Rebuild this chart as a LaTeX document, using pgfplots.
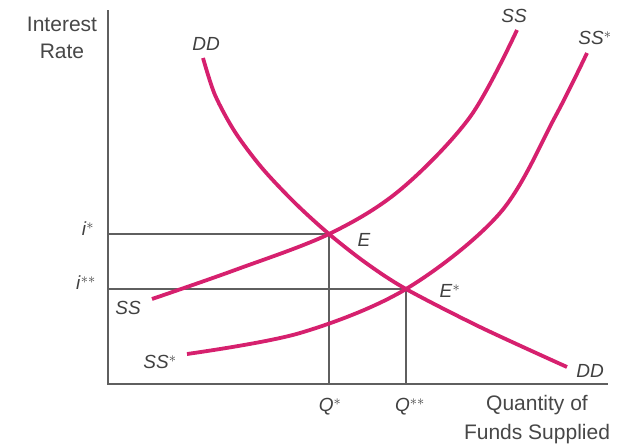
\documentclass[border=0pt]{standalone}
\usepackage{pgfplots}
\pgfplotsset{compat=1.18}
\usepackage{fontspec}
\setmainfont{Liberation Sans}
\definecolor{curve}{RGB}{214,32,110}
\definecolor{axgray}{RGB}{95,95,95}
\begin{document}
\begin{tikzpicture}[font=\fontsize{19}{22}\selectfont]
\begin{axis}[
  scale only axis, width=620pt, height=447pt,
  xmin=0, xmax=620, ymin=0, ymax=447, y dir=reverse,
  hide axis, clip=false,
]
\addplot[draw=none] coordinates {(0,0) (620,447)};
% axes
\addplot[axgray, line width=1.3pt] coordinates {(108,10) (108,384) (608,384)};
% guide lines
\addplot[axgray, line width=1.1pt] coordinates {(108,234) (329,234) (329,384)};
\addplot[axgray, line width=1.1pt] coordinates {(108,289) (406,289) (406,384)};
% DD
\addplot[curve, line width=3.8pt, smooth, tension=0.5] coordinates {
 (203,58) (215,95) (235,132) (262,168) (295,203) (329,234) (366,263) (406,289) (480,327) (567,367)};
% SS
\addplot[curve, line width=3.8pt, smooth, tension=0.55] coordinates {
 (152,299) (235,270) (329,234) (400,190) (470,117) (517,30)};
% SS*
\addplot[curve, line width=3.8pt, smooth, tension=0.55] coordinates {
 (187,354) (300,333) (406,289) (500,213) (555,117) (587,53)};
% labels
\node[text=black!72, align=center, font=\fontsize{21}{27}\selectfont] at (axis cs:62,38) {Interest\\Rate};
\node[text=black!75] at (axis cs:88,229) {\textit{i}$^{*}$};
\node[text=black!75] at (axis cs:86,283) {\textit{i}$^{**}$};
\node[text=black!75] at (axis cs:206,44) {\textit{DD}};
\node[text=black!75] at (axis cs:514,16) {\textit{SS}};
\node[text=black!75] at (axis cs:595,38) {\textit{SS}$^{*}$};
\node[text=black!75] at (axis cs:128,308) {\textit{SS}};
\node[text=black!75] at (axis cs:160,362) {\textit{SS}$^{*}$};
\node[text=black!75] at (axis cs:364,240) {\textit{E}};
\node[text=black!75] at (axis cs:450,291) {\textit{E}$^{*}$};
\node[text=black!75] at (axis cs:590,371) {\textit{DD}};
\node[text=black!75] at (axis cs:330,407) {\textit{Q}$^{*}$};
\node[text=black!75] at (axis cs:410,407) {\textit{Q}$^{**}$};
\node[text=black!72, align=center, font=\fontsize{21}{29}\selectfont] at (axis cs:537,420) {Quantity of\\Funds Supplied};
\end{axis}
\end{tikzpicture}
\end{document}
